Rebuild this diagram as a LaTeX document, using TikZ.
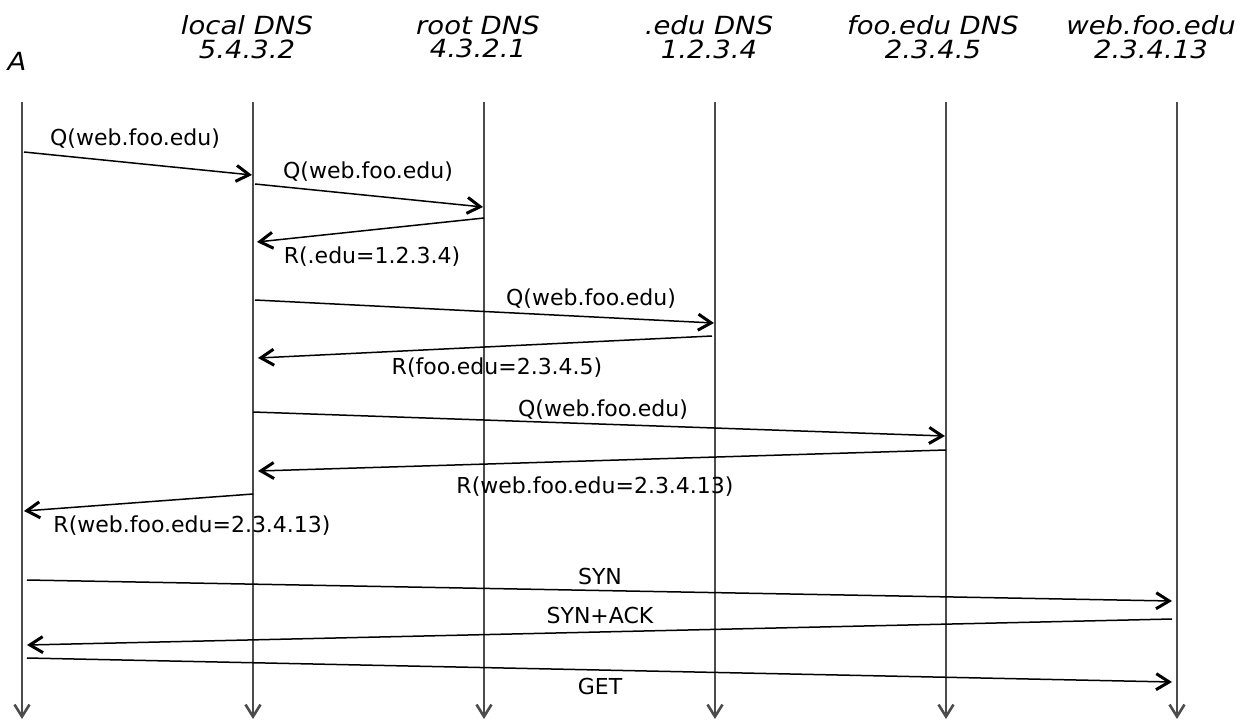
\documentclass[tikz,border=0pt]{standalone}
\usepackage{fontspec}
\setmainfont{DejaVu Sans}
\newfontfamily\hdrfont[FakeStretch=1.1]{DejaVu Sans Oblique}
\usetikzlibrary{arrows.meta}
\begin{document}
\begin{tikzpicture}[x=1pt,y=-1pt,
  life/.style={draw=black!70, line width=1.2pt, -{Straight Barb[length=12pt,width=15pt,line width=2.6pt]}},
  msg/.style={draw=black, line width=1.5pt, -{Straight Barb[length=13pt,width=16pt,line width=3pt]}},
  lbl/.style={font=\fontsize{22}{26}\selectfont, inner sep=0pt, anchor=center},
  hdr/.style={font=\fontsize{25}{23.5}\selectfont\hdrfont, inner sep=0pt, anchor=center, align=center}]
\useasboundingbox (0,0) rectangle (1254,721);
% headers
\node[hdr] (hA) at (17,61) {A};
\node[hdr] (hL) at (247,37) {local DNS\\5.4.3.2};
\node[hdr] (hR) at (478,37) {root DNS\\4.3.2.1};
\node[hdr] (hE) at (709,37) {.edu DNS\\1.2.3.4};
\node[hdr] (hF) at (933,37) {foo.edu DNS\\2.3.4.5};
\node[hdr] (hW) at (1151,37) {web.foo.edu\\2.3.4.13};
% lifelines
\foreach \n/\x in {A/22,L/253,R/484,E/715,F/946,W/1177}{
  \coordinate (\n top) at (\x,102);
  \coordinate (\n bot) at (\x,719);
  \draw[life] (\n top) -- (\n bot);
}
% message endpoints
\coordinate (m1s) at (24,152);  \coordinate (m1e) at (252,175);
\coordinate (m2s) at (255,184); \coordinate (m2e) at (483,207);
\coordinate (m3s) at (484,218); \coordinate (m3e) at (257,242);
\coordinate (m4s) at (255,300); \coordinate (m4e) at (714,323);
\coordinate (m5s) at (712,336); \coordinate (m5e) at (258,358);
\coordinate (m6s) at (253,412); \coordinate (m6e) at (945,436);
\coordinate (m7s) at (946,450); \coordinate (m7e) at (258,471);
\coordinate (m8s) at (253,494); \coordinate (m8e) at (24,511);
\coordinate (m9s) at (27,580);  \coordinate (m9e) at (1172,601);
\coordinate (m10s) at (1172,619); \coordinate (m10e) at (27,645);
\coordinate (m11s) at (27,658); \coordinate (m11e) at (1172,682);
\foreach \i in {1,...,11}{\draw[msg] (m\i s) -- (m\i e);}
% labels
\node[lbl] (l1) at (135,139) {Q(web.foo.edu)};
\node[lbl] (l2) at (368,172) {Q(web.foo.edu)};
\node[lbl] (l3) at (372,257) {R(.edu=1.2.3.4)};
\node[lbl] (l4) at (591,299) {Q(web.foo.edu)};
\node[lbl] (l5) at (497,368) {R(foo.edu=2.3.4.5)};
\node[lbl] (l6) at (603,410) {Q(web.foo.edu)};
\node[lbl] (l7) at (595,487) {R(web.foo.edu=2.3.4.13)};
\node[lbl] (l8) at (192,526) {R(web.foo.edu=2.3.4.13)};
\node[lbl] (l9) at (600,576) {SYN};
\node[lbl] (l10) at (600,615) {SYN+ACK};
\node[lbl] (l11) at (600,686) {GET};
\end{tikzpicture}
\end{document}
